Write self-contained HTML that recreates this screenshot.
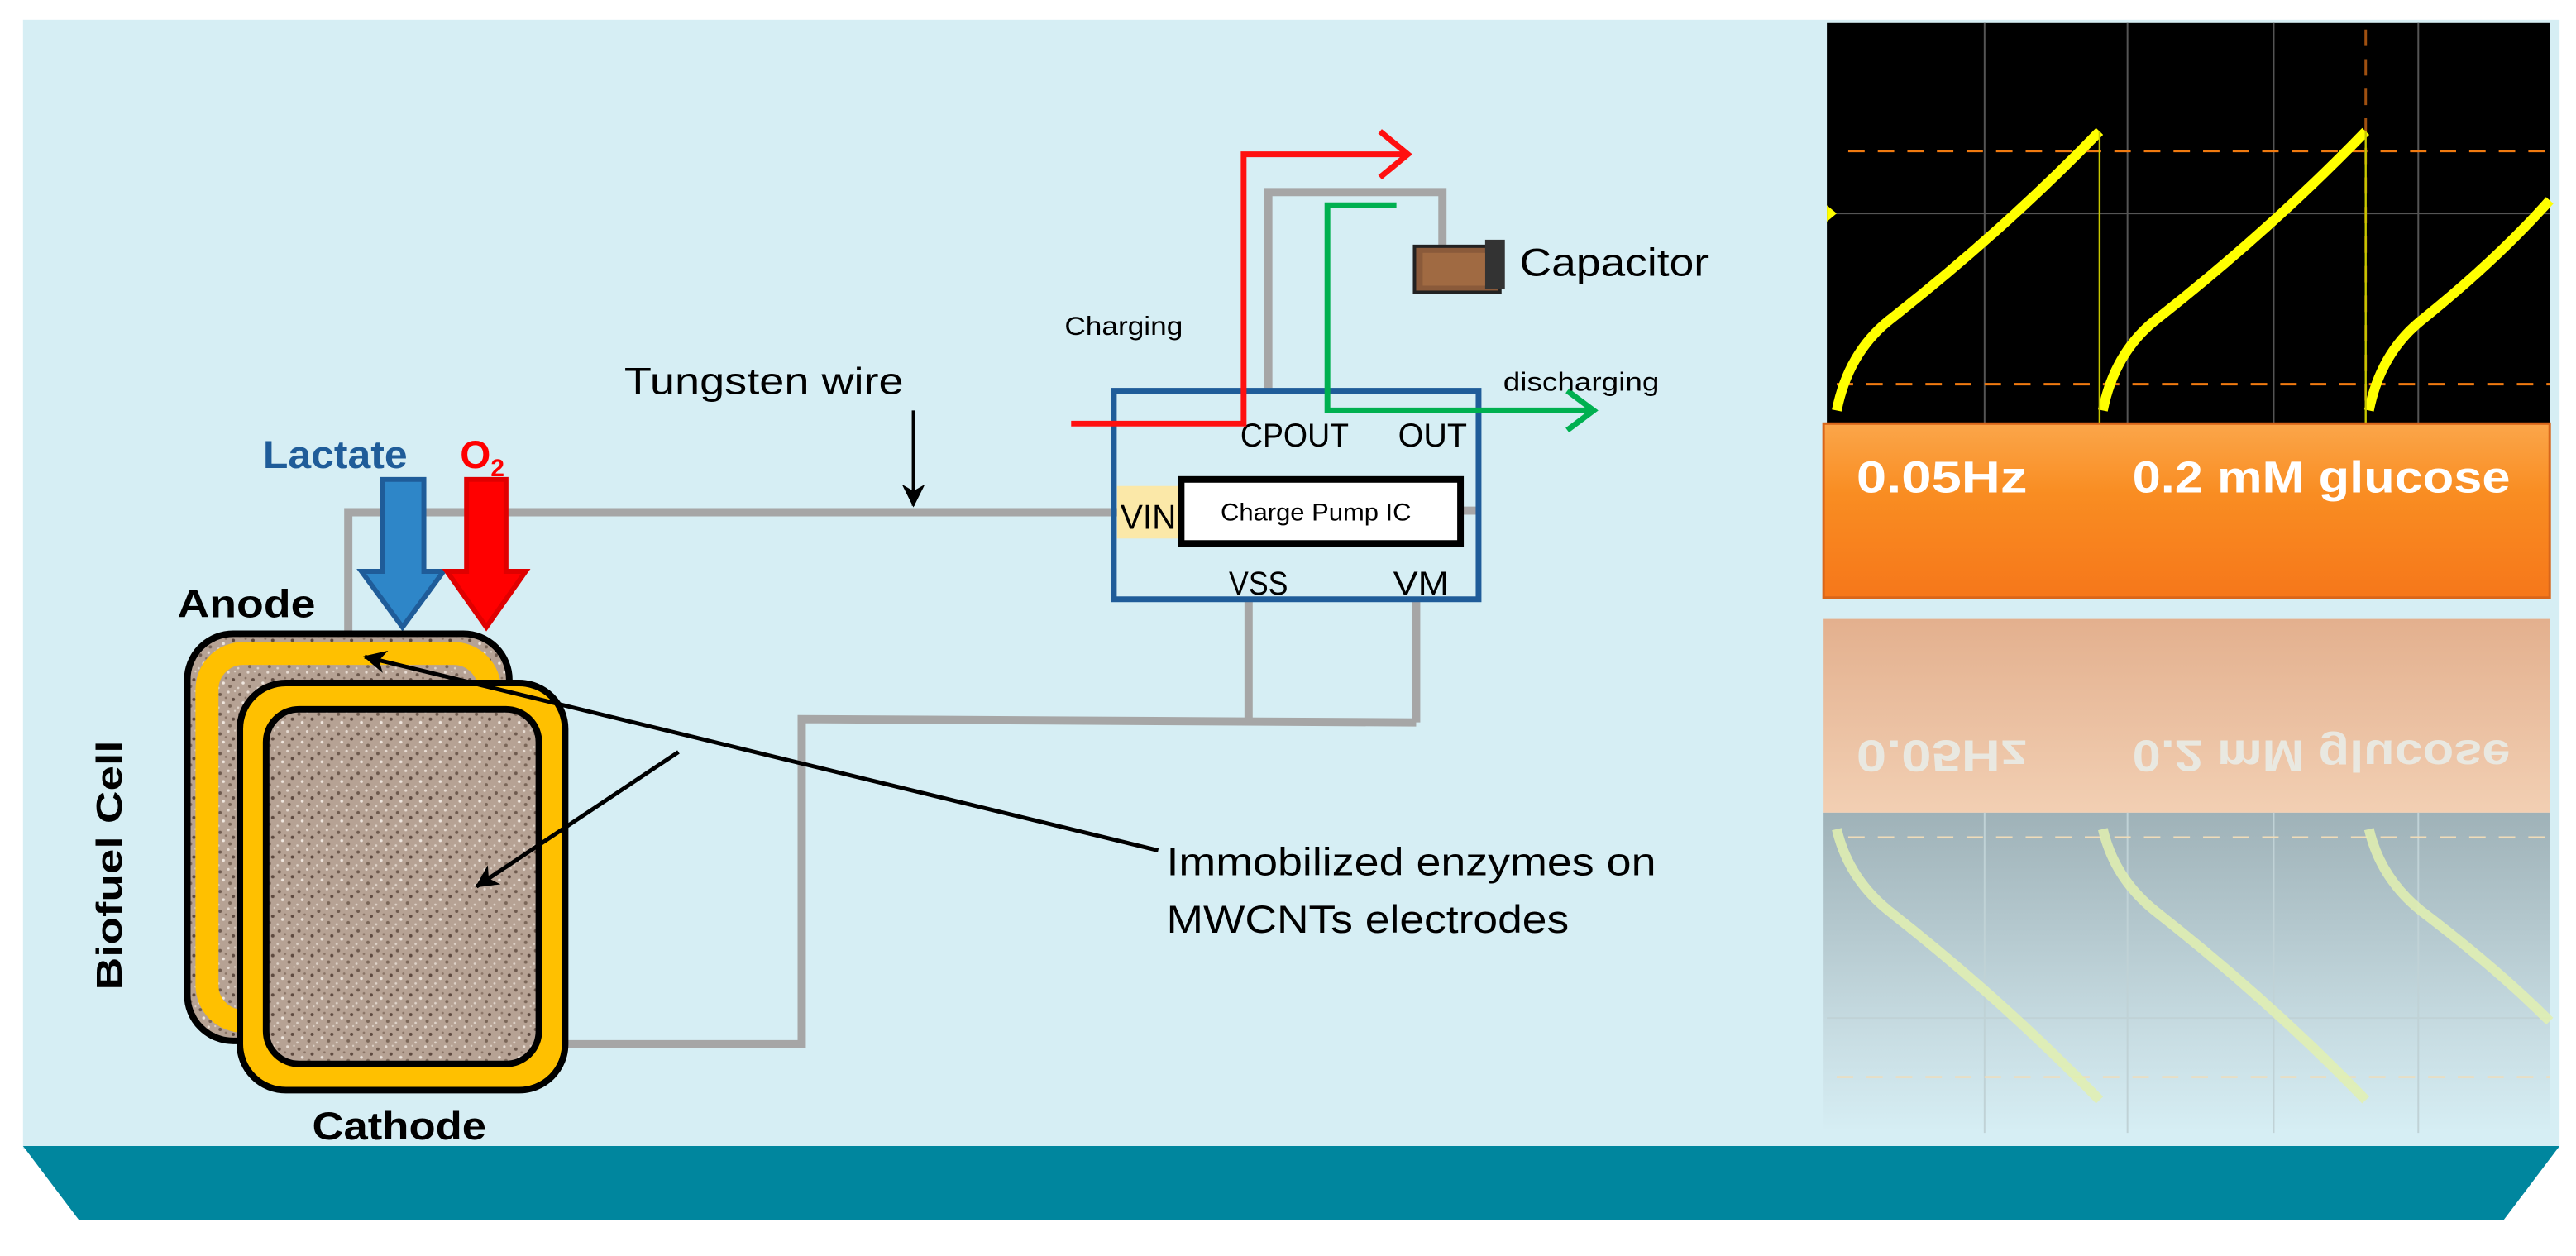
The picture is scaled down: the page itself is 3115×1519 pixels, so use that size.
<!DOCTYPE html>
<html><head><meta charset="utf-8"><style>
html,body{margin:0;padding:0;background:#fff;}
svg{display:block;}
text{font-family:"Liberation Sans",sans-serif;}
</style></head><body>
<svg width="3115" height="1519" viewBox="0 0 1568 765" preserveAspectRatio="none" xmlns="http://www.w3.org/2000/svg">
<defs>
<pattern id="spk" x="0" y="0" width="12" height="12" patternUnits="userSpaceOnUse">
<rect width="12" height="12" fill="#b6a294"/>
<circle cx="2" cy="3" r="1" fill="#6e5a4e"/><circle cx="7" cy="1.5" r="0.8" fill="#e8ddd4"/>
<circle cx="10" cy="6" r="1" fill="#5e4a40"/><circle cx="4" cy="8" r="0.9" fill="#efe6de"/>
<circle cx="8" cy="10" r="1" fill="#7a6658"/><circle cx="1" cy="11" r="0.7" fill="#e0d4ca"/>
<circle cx="5.5" cy="5" r="0.7" fill="#8a7466"/><circle cx="11" cy="1" r="0.6" fill="#dccfc4"/>
</pattern>
<linearGradient id="org" x1="0" y1="0" x2="0" y2="1"><stop offset="0" stop-color="#fba64a"/><stop offset="0.4" stop-color="#f98d22"/><stop offset="1" stop-color="#f6771a"/></linearGradient>
<linearGradient id="refl" x1="0" y1="0" x2="0" y2="1"><stop offset="0" stop-color="#9fb2b8"/><stop offset="0.7" stop-color="#c8dde3"/><stop offset="1" stop-color="#d6eef4"/></linearGradient>
<linearGradient id="pch" x1="0" y1="0" x2="0" y2="1"><stop offset="0" stop-color="#e3b08e"/><stop offset="1" stop-color="#f2cfb3"/></linearGradient>
<marker id="ah2" markerWidth="14" markerHeight="14" refX="13" refY="7" orient="auto" markerUnits="userSpaceOnUse"><path d="M0,0 L14,7 L0,14 L4,7 z" fill="#000"/></marker>
</defs>
<rect x="0" y="0" width="1568" height="765" fill="#fff"/>
<rect x="14" y="12" width="1544" height="688" fill="#d6eef4"/>
<polygon points="14,698 1558,698 1524,743 48,743" fill="#00869e"/>

<!-- scope -->
<rect x="1112" y="14" width="440" height="246" fill="#000"/>
<g stroke="#555" stroke-width="1">
<line x1="1208" y1="14" x2="1208" y2="258"/><line x1="1295" y1="14" x2="1295" y2="258"/><line x1="1384" y1="14" x2="1384" y2="258"/><line x1="1472" y1="14" x2="1472" y2="258"/>
<line x1="1112" y1="130" x2="1552" y2="130"/>
</g>
<g stroke="#f07a10" stroke-width="1.5" stroke-dasharray="10,8">
<line x1="1125" y1="92" x2="1552" y2="92"/><line x1="1118" y1="234" x2="1552" y2="234"/>
<line x1="1440" y1="18" x2="1440" y2="250" stroke="#a05010"/>
</g>
<g fill="none" stroke="#ffff00" stroke-width="6">
<path d="M1118,250 Q1125,215 1150,195 Q1220,140 1278,80"/>
<path d="M1280,250 Q1287,215 1312,195 Q1382,140 1440,80"/>
<path d="M1442,250 Q1449,215 1474,195 Q1520,158 1552,122"/>
</g>
<g stroke="#c8c800" stroke-width="1.2"><line x1="1278" y1="80" x2="1278" y2="258"/><line x1="1440" y1="80" x2="1440" y2="258"/></g>
<polygon points="1112,125 1118,130 1112,135" fill="#ff0"/>

<rect x="1110" y="258" width="442" height="106" fill="url(#org)" stroke="#d9661a" stroke-width="1.5"/>
<text x="1130" y="300" font-size="27" font-weight="bold" fill="#fff" textLength="104" lengthAdjust="spacingAndGlyphs">0.05Hz</text>
<text x="1298" y="300" font-size="27" font-weight="bold" fill="#fff" textLength="230" lengthAdjust="spacingAndGlyphs">0.2 mM glucose</text>

<rect x="1110" y="377" width="442" height="118" fill="url(#pch)"/>
<g transform="translate(0,874) scale(1,-1)" opacity="0.75">
<text x="1130" y="423" font-size="27" font-weight="bold" fill="#e8f4f4" textLength="104" lengthAdjust="spacingAndGlyphs">0.05Hz</text>
<text x="1298" y="423" font-size="27" font-weight="bold" fill="#e8f4f4" textLength="230" lengthAdjust="spacingAndGlyphs">0.2 mM glucose</text>
</g>
<rect x="1110" y="495" width="442" height="195" fill="url(#refl)"/>
<g stroke="#c0d2d6" stroke-width="1"><line x1="1208" y1="495" x2="1208" y2="690"/><line x1="1295" y1="495" x2="1295" y2="690"/><line x1="1384" y1="495" x2="1384" y2="690"/><line x1="1472" y1="495" x2="1472" y2="690"/><line x1="1112" y1="620" x2="1552" y2="620"/></g>
<g stroke="#f0dcb8" stroke-width="1.2" stroke-dasharray="10,8"><line x1="1125" y1="510" x2="1552" y2="510"/><line x1="1118" y1="656" x2="1552" y2="656"/></g>
<g fill="none" stroke="#e2f0b0" stroke-width="6" opacity="0.85">
<path d="M1118,505 Q1125,535 1150,555 Q1220,610 1278,670"/>
<path d="M1280,505 Q1287,535 1312,555 Q1382,610 1440,670"/>
<path d="M1442,505 Q1449,535 1474,555 Q1520,590 1552,622"/>
</g>

<!-- wires -->
<g fill="none" stroke="#a6a6a6" stroke-width="5">
<polyline points="212,388 212,312 680,312"/>
<polyline points="345,636 488,636 488,438 862,440"/>
<line x1="760" y1="365" x2="760" y2="438"/>
<line x1="862" y1="365" x2="862" y2="440"/>
<polyline points="772,237 772,117 878,117 878,152"/>
<line x1="890" y1="311" x2="900" y2="311"/>
</g>
<line x1="556" y1="250" x2="556" y2="308" stroke="#000" stroke-width="2" marker-end="url(#ah2)"/>
<text x="380" y="240" font-size="23" fill="#000" textLength="170" lengthAdjust="spacingAndGlyphs">Tungsten wire</text>

<!-- IC -->
<rect x="678" y="238" width="222" height="127" fill="none" stroke="#1f5c99" stroke-width="3.5"/>
<rect x="680" y="296" width="38" height="32" fill="#fbe8a8"/>
<text x="682" y="322" font-size="21" fill="#000" textLength="34" lengthAdjust="spacingAndGlyphs">VIN</text>
<rect x="719" y="292" width="170" height="39" fill="#fff" stroke="#000" stroke-width="4"/>
<text x="743" y="317" font-size="15" fill="#000" textLength="116" lengthAdjust="spacingAndGlyphs">Charge Pump IC</text>
<text x="755" y="272" font-size="20" fill="#000" textLength="66" lengthAdjust="spacingAndGlyphs">CPOUT</text>
<text x="851" y="272" font-size="20" fill="#000" textLength="42" lengthAdjust="spacingAndGlyphs">OUT</text>
<text x="748" y="362" font-size="20" fill="#000" textLength="36" lengthAdjust="spacingAndGlyphs">VSS</text>
<text x="848" y="362" font-size="20" fill="#000" textLength="34" lengthAdjust="spacingAndGlyphs">VM</text>

<polyline points="652,258 757,258 757,94 855,94" fill="none" stroke="#ff1010" stroke-width="3.5"/>
<polyline points="840,80 857,94 840,108" fill="none" stroke="#ff1010" stroke-width="3.5"/>
<polyline points="850,125 808,125 808,250 968,250" fill="none" stroke="#00b050" stroke-width="3.5"/>
<polyline points="954,238 970,250 954,262" fill="none" stroke="#00b050" stroke-width="3.5"/>
<text x="648" y="204" font-size="16" fill="#000" textLength="72" lengthAdjust="spacingAndGlyphs">Charging</text>
<text x="915" y="238" font-size="16" fill="#000" textLength="95" lengthAdjust="spacingAndGlyphs">discharging</text>

<rect x="861" y="150" width="52" height="28" fill="#8a5a3a" stroke="#222" stroke-width="2"/>
<rect x="904" y="146" width="12" height="30" fill="#333"/>
<rect x="866" y="154" width="38" height="20" fill="#a06a42"/>
<text x="925" y="168" font-size="24" fill="#000" textLength="115" lengthAdjust="spacingAndGlyphs">Capacitor</text>

<text x="160" y="285" font-size="24" font-weight="bold" fill="#1f5c99" textLength="88" lengthAdjust="spacingAndGlyphs">Lactate</text>
<text x="280" y="285" font-size="24" font-weight="bold" fill="#ff0000">O<tspan font-size="15" dy="5">2</tspan></text>
<polygon points="233,292 258,292 258,348 270,348 245,382 220,348 233,348" fill="#2e86c8" stroke="#1f5c99" stroke-width="3"/>
<polygon points="284,292 308,292 308,348 320,348 296,382 272,348 284,348" fill="#ff0000" stroke="#e00000" stroke-width="3"/>
<text x="108" y="376" font-size="24" font-weight="bold" fill="#000" textLength="84" lengthAdjust="spacingAndGlyphs">Anode</text>
<text x="190" y="694" font-size="24" font-weight="bold" fill="#000" textLength="106" lengthAdjust="spacingAndGlyphs">Cathode</text>
<text transform="translate(74,603) rotate(-90)" font-size="22" font-weight="bold" fill="#000" textLength="152" lengthAdjust="spacingAndGlyphs">Biofuel Cell</text>

<rect x="114" y="386" width="196" height="248" rx="28" fill="url(#spk)" stroke="#000" stroke-width="4"/>
<rect x="126" y="398" width="172" height="224" rx="22" fill="none" stroke="#ffc000" stroke-width="14"/>
<rect x="146" y="416" width="198" height="248" rx="28" fill="#ffc000" stroke="#000" stroke-width="4"/>
<rect x="162" y="432" width="166" height="216" rx="20" fill="url(#spk)" stroke="#000" stroke-width="4"/>

<line x1="705" y1="518" x2="222" y2="400" stroke="#000" stroke-width="2.5" marker-end="url(#ah2)"/>
<line x1="413" y1="458" x2="290" y2="540" stroke="#000" stroke-width="2.5" marker-end="url(#ah2)"/>
<text x="710" y="533" font-size="24" fill="#000" textLength="298" lengthAdjust="spacingAndGlyphs">Immobilized enzymes on</text>
<text x="710" y="568" font-size="24" fill="#000" textLength="245" lengthAdjust="spacingAndGlyphs">MWCNTs electrodes</text>
</svg>
</body></html>
